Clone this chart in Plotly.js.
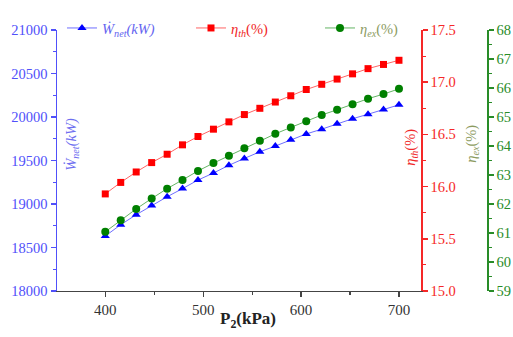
<!DOCTYPE html>
<html>
<head>
<meta charset="utf-8">
<script src="https://cdn.plot.ly/plotly-3.0.1.min.js"></script>
<style>
  html, body { margin: 0; padding: 0; background: #ffffff; }
  #chart { width: 513px; height: 337px; }
</style>
</head>
<body>
<div id="chart"></div>
<script>
// Compressor outlet pressure P2 (kPa)
const p2 = [400.0, 415.8, 431.6, 447.4, 463.2, 478.9, 494.7, 510.5, 526.3, 542.1,
            557.9, 573.7, 589.5, 605.3, 621.1, 636.8, 652.6, 668.4, 684.2, 700.0];

// Net power output (kW)
const wNet = [18632, 18762, 18877, 18982, 19083, 19177, 19275, 19356, 19445, 19524,
              19600, 19666, 19738, 19805, 19860, 19921, 19980, 20032, 20087, 20140];

// Thermal efficiency (%)
const etaTh = [15.93, 16.04, 16.14, 16.23, 16.31, 16.40, 16.48, 16.55, 16.62, 16.69,
               16.75, 16.81, 16.87, 16.93, 16.98, 17.03, 17.08, 17.13, 17.17, 17.21];

// Exergy efficiency (%)
const etaEx = [61.04, 61.44, 61.83, 62.19, 62.53, 62.83, 63.14, 63.41, 63.66, 63.92,
               64.18, 64.42, 64.64, 64.85, 65.07, 65.25, 65.44, 65.63, 65.79, 65.97];

const SERIF = '"Liberation Serif", "Times New Roman", Times, serif';
const BLUE = 'rgb(80,80,250)';
const RED = 'rgb(245,40,40)';
const GREEN = 'rgb(40,140,40)';

const traces = [
  {
    x: p2, y: wNet, yaxis: 'y', mode: 'lines+markers', type: 'scatter',
    name: '<span style="color:rgb(100,100,240)"><i>Ẇ<sub>net</sub>(kW)</i></span>',
    line: { color: 'rgb(110,110,255)', width: 1 },
    marker: { symbol: 'triangle-up', size: 8, color: '#0000ff' }
  },
  {
    x: p2, y: etaTh, yaxis: 'y2', mode: 'lines+markers', type: 'scatter',
    name: '<span style="color:rgb(240,30,30)"><i>η<sub>th</sub></i>(%)</span>',
    line: { color: 'rgb(255,100,100)', width: 1 },
    marker: { symbol: 'square', size: 7, color: '#ff0000' }
  },
  {
    x: p2, y: etaEx, yaxis: 'y3', mode: 'lines+markers', type: 'scatter',
    name: '<span style="color:rgb(140,155,95)"><i>η<sub>ex</sub></i>(%)</span>',
    line: { color: 'rgb(100,180,100)', width: 1 },
    marker: { symbol: 'circle', size: 8, color: '#008000' }
  }
];

const W = 513, H = 337, L = 57, R = 26, T = 25, B = 46;
const plotW = W - L - R, plotH = H - T - B;
const px = v => (v - L) / plotW;          // pixel column -> paper x
const py = v => (H - B - v) / plotH;      // pixel row -> paper y

function yAxis(color, range, dtick, minor, extra) {
  return Object.assign({
    range: range, dtick: dtick, showgrid: false, zeroline: false,
    showline: true, linecolor: color, linewidth: 1.5,
    ticks: 'outside', ticklen: 5, tickwidth: 1.5, tickcolor: color,
    tickfont: { family: SERIF, size: 14.5, color: color },
    minor: { dtick: minor, ticks: 'outside', ticklen: 3, tickwidth: 1.2, tickcolor: color, showgrid: false }
  }, extra);
}

function label(text, x, y, angle, size, color) {
  return {
    text: text, xref: 'paper', yref: 'paper', x: px(x), y: py(y),
    xanchor: 'center', yanchor: 'middle', textangle: angle, showarrow: false,
    font: { family: SERIF, size: size, color: color }
  };
}

const layout = {
  width: W, height: H,
  margin: { l: L, r: R, t: T, b: B },
  paper_bgcolor: '#ffffff', plot_bgcolor: '#ffffff',
  font: { family: SERIF },
  showlegend: true,
  legend: {
    orientation: 'h', x: px(62), y: py(23), xanchor: 'left', yanchor: 'middle',
    entrywidth: 84, entrywidthmode: 'pixels',
    font: { family: SERIF, size: 14.5 }, bgcolor: 'rgba(0,0,0,0)'
  },
  xaxis: {
    domain: [0, (421 - L) / plotW], range: [350.7, 722.5], dtick: 100, tick0: 400,
    showgrid: false, zeroline: false, showline: true, linecolor: '#444', linewidth: 1.2,
    ticks: 'outside', ticklen: 5, tickcolor: '#444', tickwidth: 1.2,
    tickfont: { family: SERIF, size: 15, color: '#333' },
    minor: { dtick: 50, ticks: 'outside', ticklen: 3, tickcolor: '#444', showgrid: false }
  },
  yaxis: yAxis(BLUE, [18000, 21000], 500, 250, { side: 'left', anchor: 'x', tickformat: 'd' }),
  yaxis2: yAxis(RED, [15, 17.5], 0.5, 0.25, { side: 'right', anchor: 'x', overlaying: 'y', tickformat: '.1f' }),
  yaxis3: yAxis(GREEN, [59, 68], 1, 0.5, { side: 'right', anchor: 'free', position: 1, overlaying: 'y', tickformat: 'd' }),
  annotations: [
    label('<i>Ẇ<sub>net</sub>(kW)</i>', 72, 142, -90, 14.5, 'rgb(110,110,240)'),
    label('<i>η<sub>th</sub></i>(%)', 411, 145, -90, 14.5, 'rgb(240,40,40)'),
    label('<i>η<sub>ex</sub></i>(%)', 472, 141, -90, 14.5, 'rgb(140,155,95)'),
    label('<b>P<sub>2</sub>(kPa)</b>', 248, 321, 0, 17, '#222')
  ]
};

Plotly.newPlot('chart', traces, layout, { displayModeBar: false, staticPlot: true });
</script>
</body>
</html>
